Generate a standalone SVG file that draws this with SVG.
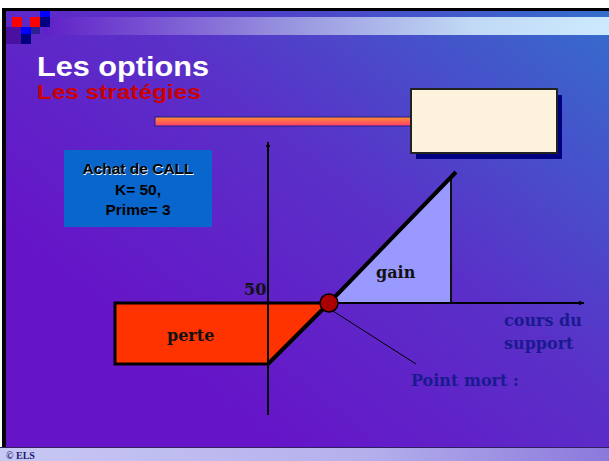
<svg xmlns="http://www.w3.org/2000/svg" width="609" height="461" viewBox="0 0 609 461">
<defs>
<linearGradient id="bg" gradientUnits="userSpaceOnUse" x1="609" y1="0" x2="260" y2="440">
<stop offset="0" stop-color="#3470cc"/>
<stop offset="0.55" stop-color="#5a30c8"/>
<stop offset="1" stop-color="#6614c8"/>
</linearGradient>
<linearGradient id="band" x1="0" y1="0" x2="1" y2="0">
<stop offset="0" stop-color="#6020c8"/>
<stop offset="0.45" stop-color="#9a98e0"/>
<stop offset="0.75" stop-color="#c0d8f4"/>
<stop offset="1" stop-color="#cceaff"/>
</linearGradient>
<linearGradient id="bar" x1="0" y1="0" x2="0" y2="1">
<stop offset="0" stop-color="#ff9030"/>
<stop offset="1" stop-color="#ff3c70"/>
</linearGradient>
<linearGradient id="foot" x1="0" y1="0" x2="1" y2="0">
<stop offset="0" stop-color="#c8c8f4"/>
<stop offset="0.6" stop-color="#b4b0ec"/>
<stop offset="1" stop-color="#8c78dc"/>
</linearGradient>
<marker id="arr" viewBox="0 0 10 10" refX="9" refY="5" markerWidth="6" markerHeight="6" orient="auto" markerUnits="userSpaceOnUse">
<path d="M0,1 L10,5 L0,9 z" fill="#000"/>
</marker>
<style>
.lbl{font-family:"DejaVu Serif","Liberation Serif",serif;font-weight:bold;font-size:16px;}
.blk{fill:#111;}
.nav{fill:#1a1a90;}
.box{font-family:"Liberation Sans",Arial,sans-serif;font-weight:bold;font-size:15.5px;text-anchor:middle;fill:#000;}
.ttl{font-family:"Liberation Sans",Arial,sans-serif;font-weight:bold;}
</style>
</defs>
<rect width="609" height="461" fill="#ffffff"/>
<rect x="3" y="8" width="606" height="453" fill="url(#bg)"/>
<rect x="3" y="8" width="606" height="3" fill="#000"/>
<rect x="2" y="8" width="4" height="440" fill="#000"/>
<rect x="43" y="17" width="566" height="18" fill="url(#band)"/>
<g id="logo">
<rect x="6" y="27" width="15" height="17" fill="#4a10a0"/>
<rect x="12" y="17" width="10" height="10" fill="#ff0000"/>
<rect x="30" y="17" width="10" height="10" fill="#ff0000"/>
<rect x="40" y="11" width="10" height="6" fill="#0000ff"/>
<rect x="40" y="17" width="10" height="10" fill="#000080"/>
<rect x="21" y="27" width="10" height="7" fill="#0000ff"/>
<rect x="31" y="27" width="9" height="7" fill="#2a2090"/>
<rect x="21" y="34" width="10" height="10" fill="#000080"/>
</g>
<g id="title">
<text class="ttl" x="37" y="76" font-size="28" fill="#ffffff" textLength="172" lengthAdjust="spacingAndGlyphs">Les options</text>
<text class="ttl" x="37" y="99" font-size="20" fill="#cc0000" textLength="164" lengthAdjust="spacingAndGlyphs">Les stratégies</text>
</g>
<g id="bar-deco">
<rect x="155" y="117" width="256" height="9" fill="url(#bar)" stroke="#20208a" stroke-width="1"/>
</g>
<g id="cream-box">
<rect x="416" y="95" width="146" height="64" fill="#000080"/>
<rect x="411" y="89" width="146" height="64" fill="#fdf3dc" stroke="#222" stroke-width="2"/>
</g>
<g id="call-box">
<rect x="64" y="150" width="148" height="77" fill="#0866cc"/>
<text class="box" x="138.5" y="174.5" style="fill:#ffffff">Achat de CALL</text>
<text class="box" x="138" y="174">Achat de CALL</text>
<text class="box" x="138" y="195">K= 50,</text>
<text class="box" x="138" y="215">Prime= 3</text>
</g>
<g id="gain-area">
<polygon points="329,303 451,303 451,178" fill="#9999ff"/>
<line x1="451" y1="178" x2="451" y2="303" stroke="#111" stroke-width="2"/>
<text class="lbl blk" x="376" y="278">gain</text>
</g>
<g id="perte-area">
<polygon points="115,303 329,303 268,364 115,364" fill="#ff3300" stroke="#000" stroke-width="3" stroke-linejoin="miter"/>
<text class="lbl blk" x="167" y="341">perte</text>
</g>
<g id="connectors">
<line x1="268" y1="415" x2="268" y2="142" stroke="#000" stroke-width="2" marker-end="url(#arr)"/>
<line x1="115" y1="303" x2="584" y2="303" stroke="#000" stroke-width="2" marker-end="url(#arr)"/>
<polyline points="268,364 329,303 456,172" fill="none" stroke="#000" stroke-width="4"/>
<line x1="333" y1="311" x2="416" y2="364" stroke="#000" stroke-width="1"/>
</g>
<g id="axis-labels">
<text class="lbl blk" x="244" y="295">50</text>
<text class="lbl nav" x="504" y="326">cours du</text>
<text class="lbl nav" x="504" y="349">support</text>
</g>
<g id="point-mort">
<circle cx="329" cy="303" r="9" fill="#aa0000" stroke="#000" stroke-width="1.5"/>
<text class="lbl nav" x="411" y="386">Point mort :</text>
</g>
<g id="footer">
<rect x="0" y="447" width="609" height="14" fill="url(#foot)"/>
<line x1="0" y1="447.5" x2="609" y2="447.5" stroke="#302060" stroke-width="1"/>
<text x="6" y="459" font-family="'Liberation Serif',serif" font-weight="bold" font-size="10" fill="#1a1a70">© ELS</text>
</g>
</svg>
